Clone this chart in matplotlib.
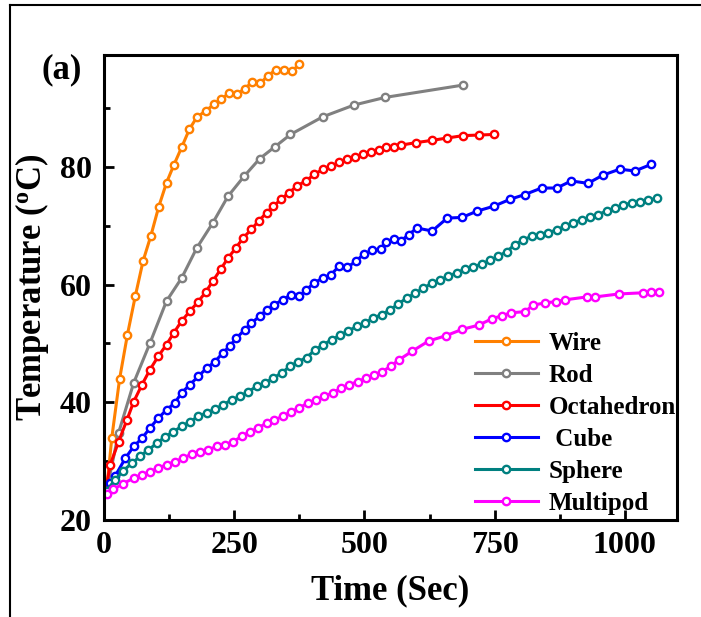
import matplotlib
matplotlib.use("Agg")
import matplotlib.pyplot as plt
from matplotlib.lines import Line2D
from matplotlib.ticker import MultipleLocator

# ---------------- data ----------------
wire_t = [5, 15, 30, 45, 60, 75, 90, 105, 120, 134, 149, 164, 178, 195, 211, 225, 240, 255, 270, 285, 300, 315, 330, 345, 360, 375]
wire_T = [25, 34, 44, 51.5, 58, 64, 68.3, 73.2, 77.3, 80.3, 83.3, 86.4, 88.4, 89.5, 90.6, 91.5, 92.5, 92.3, 93.3, 94.4, 94.2, 95.5, 96.5, 96.5, 96.2, 97.4]

rod_t = [5, 28, 57, 88, 120, 149, 178, 209, 238, 269, 299, 328, 358, 420, 480, 540, 690]
rod_T = [25, 34.8, 43.3, 50, 57.2, 61.1, 66.2, 70.5, 75, 78.4, 81.4, 83.4, 85.5, 88.5, 90.5, 91.8, 93.9]

octa_t = [3, 12, 28, 44, 57, 73, 88, 104, 120, 134, 149, 165, 180, 195, 209, 224, 238, 253, 267, 283,
          297, 312, 325, 340, 355, 370, 387, 404, 420, 436, 452, 467, 482, 497, 512, 527, 541, 557, 571, 598,
          630, 659, 689, 719, 749]
octa_T = [25, 29.4, 33.3, 37, 40.1, 43, 45.5, 47.8, 49.8, 51.8, 53.8, 55.5, 57, 58.7, 60.6, 62.6, 64.5, 66.2, 67.9, 69.4,
          70.8, 72.2, 73.3, 74.5, 75.6, 76.7, 77.6, 78.7, 79.6, 80.1, 80.8, 81.3, 81.7, 82.1, 82.5, 82.9, 83.3, 83.4, 83.7, 84.1,
          84.5, 84.9, 85.3, 85.4, 85.5]

cube_t = [5, 12, 21, 41, 57, 73, 88, 104, 120, 136, 149, 165, 181, 197, 213, 228, 241, 254, 270, 283,
          299, 312, 327, 343, 359, 375, 388, 404, 420, 436, 452, 467, 484, 499, 515, 531, 541, 557, 570, 585,
          601, 630, 659, 687, 717, 748, 780, 808, 840, 869, 897, 929, 958, 990, 1019, 1050]
cube_T = [24.8, 26.3, 27.4, 30.5, 32.5, 33.9, 35.6, 37.3, 38.7, 39.9, 41.6, 43, 44.4, 45.8, 46.9, 48.4, 49.5, 50.9, 52.3, 53.5,
          54.6, 55.7, 56.6, 57.4, 58.3, 58, 59.1, 60.3, 61.1, 61.7, 63.2, 62.9, 64, 65.2, 65.8, 66.1, 67.2, 67.7, 67.4, 68.5,
          69.6, 69.1, 71.3, 71.4, 72.5, 73.3, 74.5, 75.3, 76.4, 76.4, 77.6, 77.2, 78.6, 79.6, 79.3, 80.4]

sphere_t = [5, 21, 37, 53, 69, 85, 101, 117, 133, 149, 165, 181, 197, 213, 229, 245, 261, 277, 293, 309,
            325, 341, 357, 373, 389, 405, 421, 437, 453, 469, 485, 501, 517, 533, 549, 565, 581, 597, 613, 629,
            645, 661, 677, 693, 709, 725, 741, 757, 773, 789, 805, 821, 837, 853, 869, 885, 901, 917, 933, 949,
            965, 981, 997, 1013, 1029, 1045, 1061]
sphere_T = [25, 26.8, 28.4, 29.6, 30.8, 31.9, 33, 34.1, 35, 35.9, 36.7, 37.6, 38.2, 38.8, 39.6, 40.4, 41, 41.8, 42.7, 43.3,
            44.1, 45, 46.1, 46.9, 47.6, 48.9, 49.8, 50.6, 51.4, 52.1, 52.9, 53.5, 54.3, 54.9, 55.7, 56.7, 57.7, 58.5, 59.4, 60.2,
            60.8, 61.4, 62, 62.6, 63, 63.5, 64.1, 64.8, 65.6, 66.8, 67.6, 68.2, 68.5, 68.8, 69.3, 69.9, 70.5, 71, 71.4, 71.9,
            72.5, 73, 73.5, 73.9, 74.1, 74.3, 74.7]

multi_t = [5, 18, 37, 57, 73, 88, 104, 120, 136, 152, 168, 184, 200, 216, 232, 248, 264, 280, 296, 312,
           327, 343, 359, 375, 391, 407, 423, 439, 455, 471, 487, 503, 519, 534, 550, 566, 592, 623, 656, 688,
           719, 745, 764, 781, 808, 824, 847, 868, 885, 927, 943, 988, 1034, 1050, 1066]
multi_T = [24.5, 25.2, 26.2, 27.1, 27.7, 28.2, 28.8, 29.4, 29.9, 30.5, 31.2, 31.6, 31.9, 32.5, 32.8, 33.3, 34.2, 35, 35.6, 36.5,
           37, 37.6, 38.4, 39, 39.9, 40.4, 41, 41.6, 42.4, 43, 43.5, 44.1, 44.7, 45.2, 46.1, 47.2, 48.7, 50.4, 51.3, 52.4,
           53.1, 54.2, 54.7, 55.2, 55.4, 56.5, 56.9, 57.1, 57.4, 57.9, 57.9, 58.4, 58.6, 58.8, 58.8]

labels = ["Wire", "Rod", "Octahedron", " Cube", "Sphere", "Multipod"]
colors = ["#FF8000", "#808080", "#FF0000", "#0000FF", "#008080", "#FF00FF"]
series = [(wire_t, wire_T), (rod_t, rod_T), (octa_t, octa_T), (cube_t, cube_T), (sphere_t, sphere_T), (multi_t, multi_T)]

xticks = [0, 250, 500, 750, 1000]
yticks = [20, 40, 60, 80]

# ---------------- plot ----------------
plt.rcParams['font.family'] = ['Liberation Serif', 'DejaVu Serif']
plt.rcParams['font.weight'] = 'bold'
plt.rcParams['mathtext.fontset'] = 'custom'
plt.rcParams['mathtext.rm'] = 'Liberation Serif:bold'
plt.rcParams['mathtext.it'] = 'Liberation Serif:bold'
plt.rcParams['mathtext.bf'] = 'Liberation Serif:bold'

W, H = 701, 617
fig = plt.figure(figsize=(W / 100, H / 100), dpi=100)
ax = fig.add_axes([104 / W, 1 - 520 / H, (677 - 104) / W, (520 - 55) / H])

for (t, T), lab, c in zip(series, labels, colors):
    ax.plot(t, T, color=c, lw=2.2, marker='o', ms=5.3, mfc='white', mec=c, mew=1.7, label=lab)

ax.set_xlim(0, 1100)
ax.set_ylim(20, 99)
ax.set_xticks(xticks)
ax.set_yticks(yticks)
ax.xaxis.set_minor_locator(MultipleLocator(125))
ax.yaxis.set_minor_locator(MultipleLocator(10))
ax.tick_params(which='major', direction='in', length=7, width=2, labelsize=23, top=False, right=False)
ax.tick_params(which='minor', direction='in', length=4, width=2, top=False, right=False)
ax.tick_params(axis='x', pad=8)
ax.tick_params(axis='y', pad=9)
for lbl in ax.get_xticklabels() + ax.get_yticklabels():
    lbl.set_fontweight('bold')
for s in ax.spines.values():
    s.set_linewidth(2.2)

ax.set_xlabel("Time (Sec)", fontsize=25, fontweight='bold', labelpad=10)
ax.set_ylabel(r"Temperature ($\mathrm{^{o}}$C)", fontsize=25, fontweight='bold', labelpad=6)

fig.text(62 / W, 1 - 70 / H, "(a)", fontsize=25, fontweight='bold', ha='center', va='center')

leg = ax.legend(loc='upper left', bbox_to_anchor=(475 / W, 1 - 332 / H), bbox_transform=fig.transFigure,
                frameon=False, prop={'family': 'Liberation Serif', 'weight': 'bold', 'size': 18},
                handlelength=2.5, handletextpad=0.45, labelspacing=0.36, borderpad=0, borderaxespad=0,
                numpoints=1)

# outer frame lines of the figure panel
fig.add_artist(Line2D([10 / W, 10 / W], [0, 1 - 5 / H], transform=fig.transFigure, color='black', lw=1.5))
fig.add_artist(Line2D([10 / W, 1], [1 - 5 / H, 1 - 5 / H], transform=fig.transFigure, color='black', lw=1.5))

fig.savefig("out.png", dpi=100)
